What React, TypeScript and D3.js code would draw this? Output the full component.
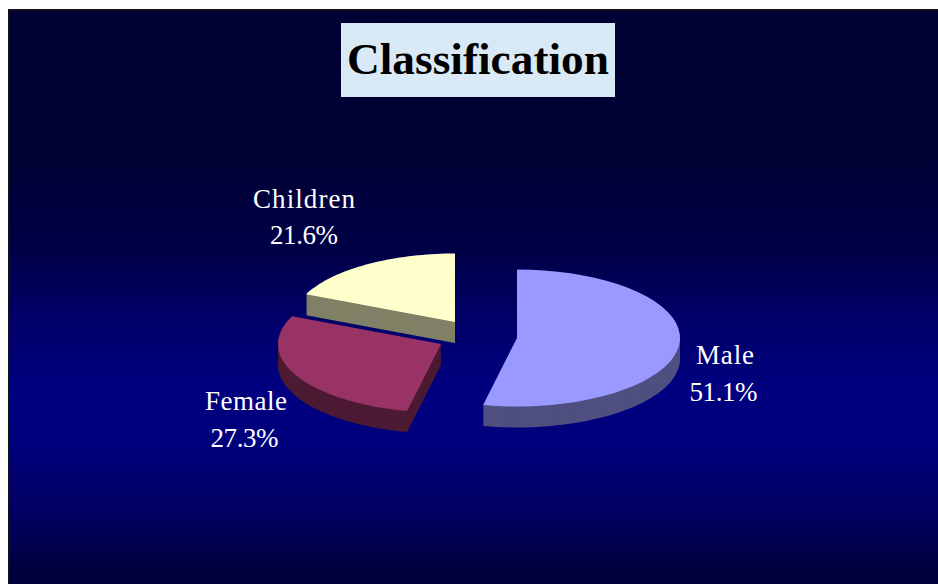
import React from 'react';
import * as d3 from 'd3';

const categories = ['Male', 'Female', 'Children'];
const shares = [51.1, 27.3, 21.6];
const topColors = ['#9999ff', '#993366', '#ffffcc'];
const sideColors = ['#4f4f80', '#4d1a33', '#808066'];

const width = 938;
const height = 584;
const rx = 163;
const ry = 68.5;
const depth = 21;

// where each exploded slice has its tip, and where its labels sit
const tips: [number, number][] = [[517, 338], [441, 344], [455, 322]];
const nameAnchors: [number, number][] = [[725, 364], [246, 410], [304, 208]];
const shareAnchors: [number, number][] = [[723.5, 401], [244.5, 447], [304, 244]];
const nameWidths = [58, 82, 102];
const shareWidth = 68;

const toRad = (deg: number) => (deg * Math.PI) / 180;

// the 3D tilt of the original stretches the angles a bit
const viewAngle = d3
  .scaleLinear()
  .domain([0, toRad(183.96), toRad(282.24), toRad(360)])
  .range([0, toRad(192), toRad(294), toRad(360)]);

const slices = d3.pie<number>().sort(null)(shares);

const outline = d3.line();

function slicePath(i: number) {
  const [cx, cy] = tips[i];
  const start = viewAngle(slices[i].startAngle);
  const end = viewAngle(slices[i].endAngle);
  const steps = d3.range(0, 41).map((k) => start + ((end - start) * k) / 40);
  const rim = steps.map((a): [number, number] => [
    cx + rx * Math.sin(a),
    cy - ry * Math.cos(a),
  ]);
  return outline([[cx, cy], ...rim]) + 'Z';
}

// painted back to front
const drawOrder = [2, 1, 0];

export default function App() {
  return (
    <svg
      width={width}
      height={height}
      style={{ position: 'fixed', left: 0, top: 0, background: '#fff' }}
    >
      <defs>
        <linearGradient id="bg" x1="0" y1="0" x2="0" y2="1">
          <stop offset="0" stopColor="#000033" />
          <stop offset="0.25" stopColor="#000033" />
          <stop offset="0.42" stopColor="#000048" />
          <stop offset="0.55" stopColor="#00006c" />
          <stop offset="0.66" stopColor="#000080" />
          <stop offset="0.76" stopColor="#00007c" />
          <stop offset="0.88" stopColor="#000060" />
          <stop offset="1" stopColor="#000038" />
        </linearGradient>
        <filter id="paper" x="0" y="0" width="1" height="1">
          <feTurbulence type="fractalNoise" baseFrequency="0.1 0.16" numOctaves={3} seed={4} />
          <feColorMatrix
            type="matrix"
            values="0 0 0 0 0.70  0 0 0 0 0.82  0 0 0 0 0.93  2 0 0 0 -0.6"
          />
        </filter>
      </defs>

      <rect x={8} y={9} width={width - 8} height={height - 9} fill="#111118" />
      <rect x={10} y={11} width={width - 10} height={height - 11} fill="url(#bg)" />

      <rect x={341} y={23} width={274} height={74} fill="#d8e8f5" />
      <rect x={341} y={23} width={274} height={74} filter="url(#paper)" />
      <text
        x={478}
        y={74}
        textAnchor="middle"
        textLength={262}
        lengthAdjust="spacingAndGlyphs"
        fontFamily="'Liberation Serif', serif"
        fontWeight="bold"
        fontSize={44}
        fill="#000"
      >
        Classification
      </text>

      {drawOrder.map((i) => (
        <g key={categories[i]}>
          {d3.range(depth, 0, -1).map((d) => (
            <path key={d} d={slicePath(i)} transform={`translate(0,${d})`} fill={sideColors[i]} />
          ))}
          <path d={slicePath(i)} fill={topColors[i]} />
        </g>
      ))}

      {categories.map((name, i) => (
        <g
          key={name}
          fontFamily="'Liberation Serif', serif"
          fontSize={27}
          fill="#fff"
          textAnchor="middle"
        >
          <text x={nameAnchors[i][0]} y={nameAnchors[i][1]} textLength={nameWidths[i]} lengthAdjust="spacing">
            {name}
          </text>
          <text x={shareAnchors[i][0]} y={shareAnchors[i][1]} textLength={shareWidth} lengthAdjust="spacing">
            {d3.format('.1f')(shares[i])}%
          </text>
        </g>
      ))}
    </svg>
  );
}
